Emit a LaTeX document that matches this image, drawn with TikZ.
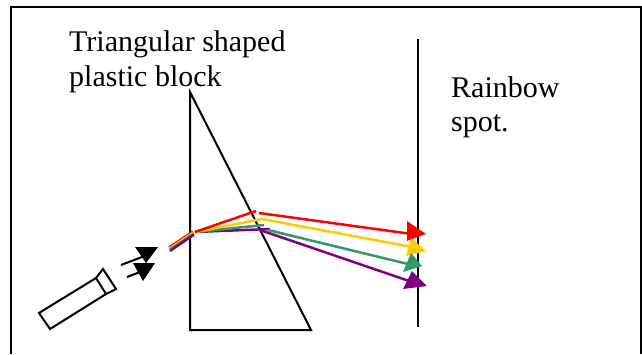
\documentclass[tikz,border=0pt]{standalone}
\usepackage{fontspec}
\setmainfont{Liberation Serif}
\tikzset{
  x=1pt,y=-1pt,
  frameline/.style={draw=black,line width=2pt},
  shapeline/.style={draw=black,line width=2pt,line join=miter},
  ray/.style={line width=2.5pt},
  lab/.style={anchor=base west,inner sep=0pt,align=left,font=\fontsize{30}{34}\selectfont},
}
\definecolor{rred}{RGB}{255,0,0}
\definecolor{ryel}{RGB}{255,204,0}
\definecolor{rgrn}{RGB}{51,153,102}
\definecolor{rpur}{RGB}{128,0,128}
\begin{document}
\begin{tikzpicture}
\useasboundingbox (0,0) rectangle (642,354);
\fill[white] (0,0) rectangle (642,354);
\draw[frameline] (11,354) -- (11,7) -- (640.5,7) -- (640.5,354);
% screen and block
\coordinate (st) at (418,39); \coordinate (sb) at (418,327);
\draw[shapeline] (st) -- (sb);
\coordinate (ta) at (190,92); \coordinate (tb) at (190,330); \coordinate (tc) at (311,330);
\draw[shapeline] (ta) -- (tb) -- (tc) -- cycle;
% incoming rays
\coordinate (o) at (195,232);
\draw[ray,rred] (169,247.5) -- (193,231.5);
\draw[ray,ryel] (169.5,248.5) -- (193.5,232.5);
\draw[ray,rgrn] (170,249.5) -- (194,233.5);
\draw[ray,rpur] (170,251) -- (194,234.5);
% inside block
\draw[ray,rpur] (o) -- (270,229);
\draw[ray,rgrn] (o) -- (264,225);
\draw[ray,ryel] (o) -- (262,219);
\draw[ray,rred] (o) -- (256,211);
% outgoing rays
\draw[ray,rred] (259,213) -- (412,234);
\draw[ray,ryel] (262,219) -- (412,247);
\draw[ray,rgrn] (268,230) -- (412,265);
\draw[ray,rpur] (260,230) -- (412,282);
% arrow heads
\fill[rred] (407,221) -- (426,234) -- (407,241) -- cycle;
\fill[ryel] (411,238) -- (426,251) -- (406,256) -- cycle;
\fill[rgrn] (411,253) -- (422,266) -- (403,272) -- cycle;
\fill[rpur] (412,271) -- (427,286) -- (403,289) -- cycle;
% torch
\draw[shapeline] (96,278) -- (39,313) -- (50,329) -- (106,294) -- cycle;
\draw[shapeline] (96,278) -- (103,269) -- (116,289) -- (106,294);
% black arrows
\coordinate (a1) at (121,265); \coordinate (a2) at (142,257);
\coordinate (b1) at (127,277); \coordinate (b2) at (140,272);
\draw[shapeline] (a1) -- (a2);
\draw[shapeline] (b1) -- (b2);
\fill (135,247) -- (158,247) -- (146,263) -- cycle;
\fill (133,263) -- (155,263) -- (143,281) -- cycle;
% labels
\node[lab] (t1) at (69,51) {Triangular shaped};
\node[lab] (t2) at (69,86) {plastic block};
\node[lab] (t3) at (451,97) {Rainbow};
\node[lab] (t4) at (451,131) {spot.};
\end{tikzpicture}
\end{document}
